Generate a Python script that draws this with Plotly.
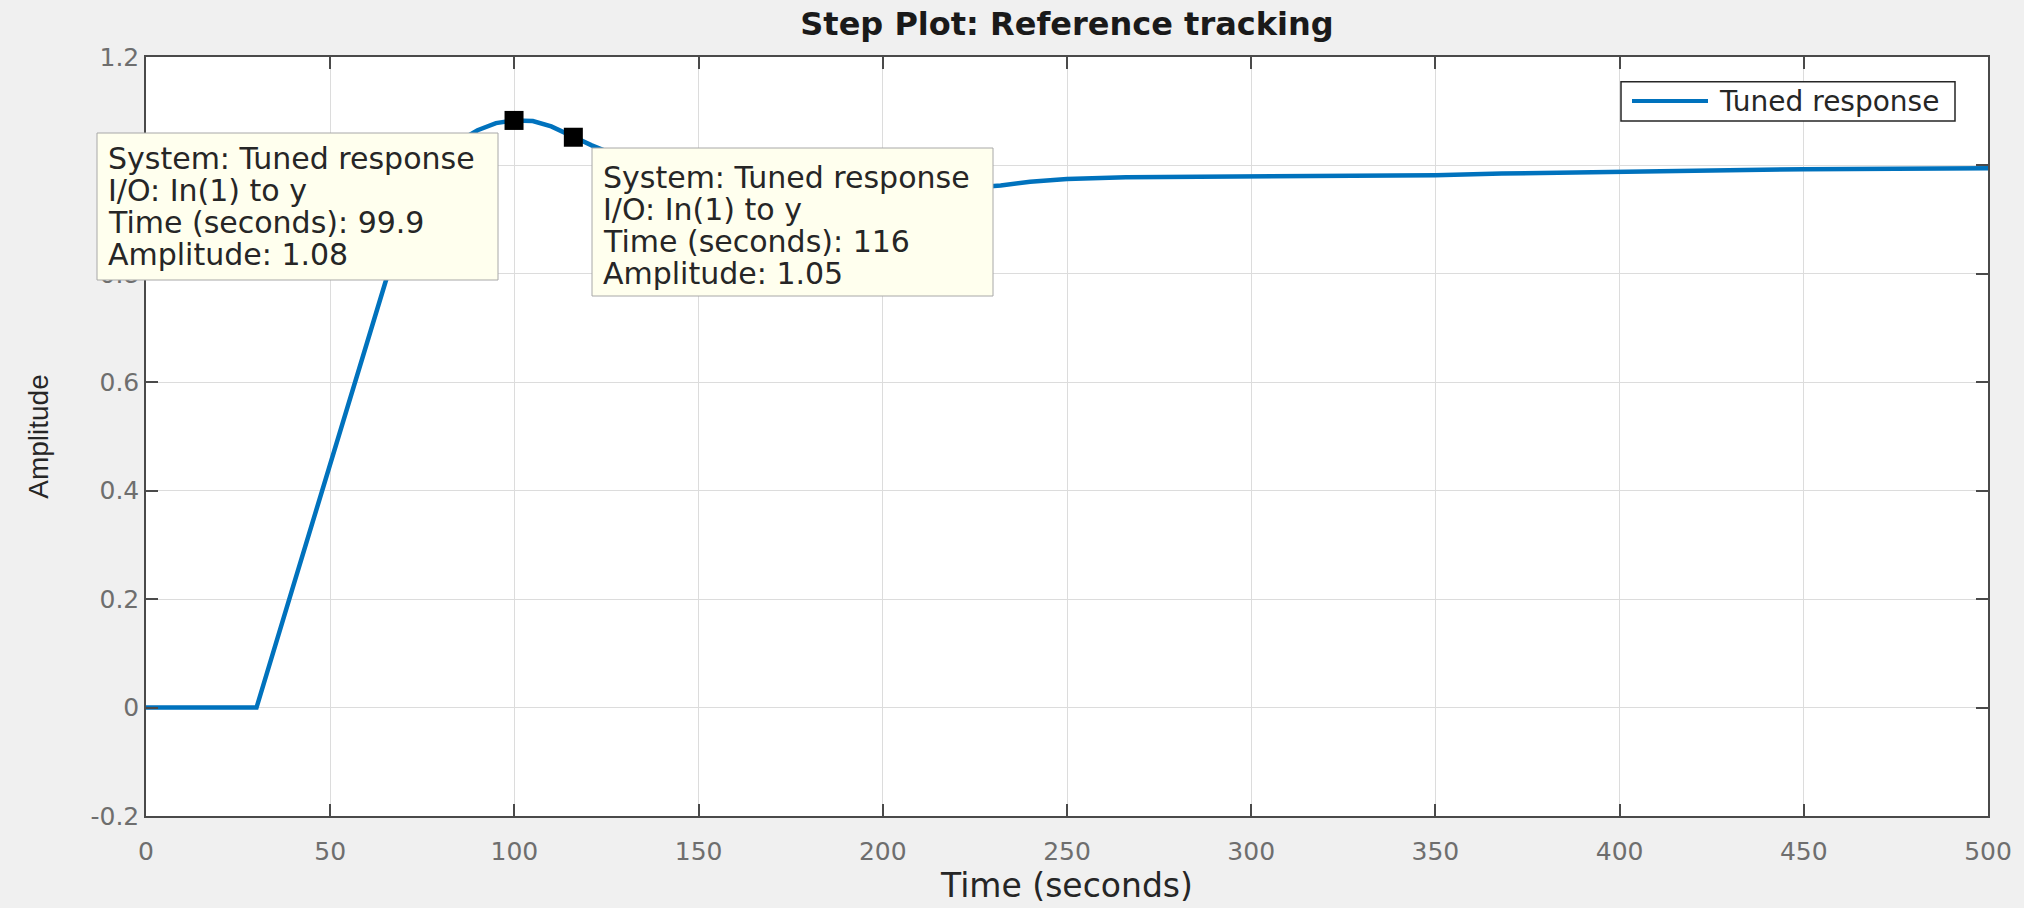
import plotly.graph_objects as go

# ---- data ----
time_s = [0, 30, 40, 50, 60, 65, 70, 75, 80, 85, 90, 95, 99.9, 105, 110, 116, 121,
          130, 140, 150, 160, 170, 180, 190, 200, 210, 220, 232, 240, 250, 266,
          300, 333, 350, 368, 400, 450, 500]
amplitude = [0, 0, 0.225, 0.45, 0.675, 0.785, 0.885, 0.962, 1.012, 1.045, 1.065, 1.078,
             1.083, 1.082, 1.072, 1.052, 1.037, 1.012, 0.99, 0.973, 0.962, 0.955,
             0.951, 0.950, 0.951, 0.953, 0.957, 0.963, 0.970, 0.975, 0.978, 0.979,
             0.980, 0.982, 0.985, 0.988, 0.993, 0.995]
series_name = "Tuned response"

tip_time = [99.9, 116]
tip_amp = [1.083, 1.052]
tip_time_text = ["99.9", "116"]
tip_amp_text = ["1.08", "1.05"]

x_ticks = [0, 50, 100, 150, 200, 250, 300, 350, 400, 450, 500]
y_ticks = [-0.2, 0, 0.2, 0.4, 0.6, 0.8, 1.0, 1.2]
y_tick_text = ["-0.2", "0", "0.2", "0.4", "0.6", "0.8", "1", "1.2"]

# ---- layout constants (pixels) ----
W, H = 2024, 908
L, R, T, B = 146, 36, 57, 92
PW, PH = W - L - R, H - T - B


def px(x):
    return (x - L) / PW


def py(y):
    return (H - B - y) / PH


FONT = "DejaVu Sans"
TXT = "#262626"
LINE_COLOR = "#0072BD"

fig = go.Figure()
fig.add_trace(go.Scatter(
    x=time_s, y=amplitude, mode="lines", name=series_name,
    line=dict(color=LINE_COLOR, width=4.5), showlegend=False))
fig.add_trace(go.Scatter(
    x=tip_time, y=tip_amp, mode="markers", showlegend=False,
    marker=dict(symbol="square", size=19, color="black")))

axis_common = dict(
    showgrid=True, gridcolor="#dcdcdc", gridwidth=1,
    showline=True, linecolor="#4a4a4a", linewidth=1.5, mirror="ticks",
    ticks="inside", ticklen=12, tickcolor="#4a4a4a", tickwidth=1.5,
    zeroline=False, tickfont=dict(family=FONT, size=25, color="#6e6e6e"),
)

fig.update_layout(
    width=W, height=H,
    paper_bgcolor="#f0f0f0", plot_bgcolor="white",
    margin=dict(l=L, r=R, t=T, b=B, autoexpand=False),
    title=dict(text="<b>Step Plot: Reference tracking</b>", xref="paper", x=0.5,
               xanchor="center", y=(H - 24) / H, yanchor="middle", yref="container",
               font=dict(family=FONT, size=32, color="#1a1a1a")),
    xaxis=dict(range=[0, 500], tickvals=x_ticks, ticklabelstandoff=12,
               title=dict(text="Time (seconds)", standoff=6,
                          font=dict(family=FONT, size=33, color=TXT)),
               **axis_common),
    yaxis=dict(range=[-0.2, 1.2], tickvals=y_ticks, ticktext=y_tick_text,
               ticklabelstandoff=0,
               title=dict(text="Amplitude", standoff=34,
                          font=dict(family="Liberation Sans", size=28, color=TXT)),
               **axis_common),
    showlegend=False,
)

# legend (MATLAB style box with long line sample)
fig.add_shape(type="rect", xref="paper", yref="paper",
              x0=px(1621), x1=px(1955), y0=py(81.7), y1=py(121),
              fillcolor="white", line=dict(color="#262626", width=1.5), layer="above")
fig.add_shape(type="line", xref="paper", yref="paper",
              x0=px(1632), x1=px(1708), y0=py(101), y1=py(101),
              line=dict(color=LINE_COLOR, width=4), layer="above")
fig.add_annotation(xref="paper", yref="paper", x=px(1717), y=py(101.5),
                   xanchor="left", yanchor="middle", showarrow=False,
                   text=series_name, font=dict(family=FONT, size=28, color=TXT))

# datatip boxes
boxes = [(97, 133, 498, 280), (592, 148, 993, 296)]
text_x = [106, 601]
first_line_y = [158, 177]
for i, (x0, y0, x1, y1) in enumerate(boxes):
    fig.add_shape(type="rect", xref="paper", yref="paper",
                  x0=px(x0), x1=px(x1), y0=py(y0), y1=py(y1),
                  fillcolor="#ffffee", line=dict(color="#a8a8a8", width=1),
                  layer="above")
    lines = [f"System: {series_name}", "I/O: In(1) to y",
             f"Time (seconds): {tip_time_text[i]}", f"Amplitude: {tip_amp_text[i]}"]
    for k, s in enumerate(lines):
        fig.add_annotation(xref="paper", yref="paper", x=px(text_x[i]),
                           y=py(first_line_y[i] + 32.3 * k),
                           xanchor="left", yanchor="middle", showarrow=False,
                           text=s, font=dict(family=FONT, size=30, color=TXT))

fig.write_html("out.html")
